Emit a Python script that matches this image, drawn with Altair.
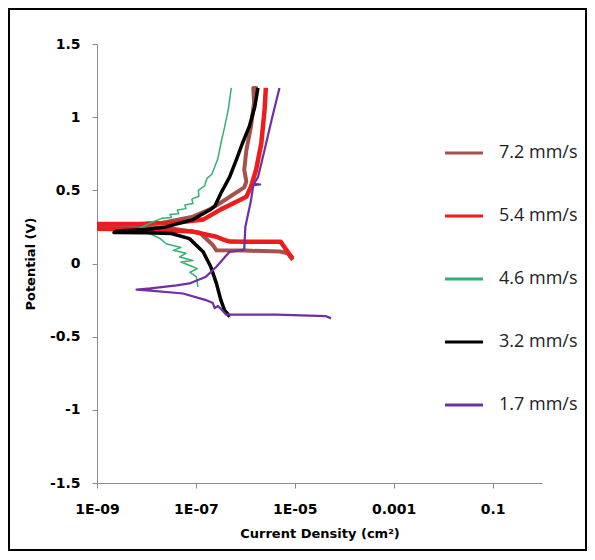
import altair as alt
import pandas as pd

speeds = ["7.2 mm/s", "5.4 mm/s", "4.6 mm/s", "3.2 mm/s", "1.7 mm/s"]
colors = ["#A4524C", "#EE1C1C", "#33B071", "#000000", "#7030A0"]
widths = [4.0, 4.5, 1.5, 3.5, 2.2]

# current density (A/cm2) and potential (V), in scan order
i_72 = [9.1e-6, 7.2e-6, 5.0e-6, 1.0e-6, 2.6e-7, 2.2e-7, 1.2e-7, 3.2e-8, 3.2e-9, 9e-10,
        9e-10, 3.2e-9, 1.9e-8, 8.7e-8, 1.9e-7, 3.0e-7, 5.6e-7, 9.5e-7, 1.05e-6, 9.5e-7,
        1.05e-6, 1.3e-6, 1.5e-6, 1.45e-6, 1.65e-6, 1.6e-6]
v_72 = [0.024, 0.07, 0.082, 0.088, 0.09, 0.126, 0.21, 0.24, 0.25, 0.255,
        0.262, 0.265, 0.276, 0.32, 0.37, 0.41, 0.47, 0.52, 0.56, 0.64,
        0.775, 0.935, 1.1, 1.2, 1.2, 1.12]

i_54 = [9.1e-6, 7.9e-6, 5.2e-6, 1.0e-6, 4.8e-7, 3.5e-7, 2.6e-7, 8.7e-8, 1.0e-8, 9e-10,
        9e-10, 1.0e-8, 4.0e-8, 1.4e-7, 3.2e-7, 5.6e-7, 1.05e-6, 1.3e-6, 1.65e-6, 2.1e-6,
        2.45e-6, 2.6e-6]
v_54 = [0.035, 0.06, 0.148, 0.148, 0.15, 0.165, 0.183, 0.218, 0.232, 0.238,
        0.27, 0.272, 0.278, 0.30, 0.37, 0.41, 0.456, 0.525, 0.64, 0.82,
        1.05, 1.2]

i_46 = [1.1e-7, 1.02e-7, 7.6e-8, 1.07e-7, 7.1e-8, 5.0e-8, 8.7e-8, 4.7e-8, 6.3e-8, 3.5e-8,
        5.0e-8, 2.5e-8, 1.9e-8, 1.26e-8, 7.1e-9, 1.26e-8, 2.1e-8, 3.2e-8, 3.0e-8, 4.5e-8,
        4.2e-8, 6.3e-8, 6.0e-8, 8.7e-8, 8.3e-8, 1.15e-7, 1.12e-7, 1.5e-7, 1.66e-7, 2.1e-7,
        2.4e-7, 2.8e-7, 3.2e-7, 3.8e-7, 4.5e-7, 5.2e-7]
v_46 = [-0.16, -0.09, -0.06, -0.035, -0.01, 0.01, 0.02, 0.045, 0.07, 0.09,
        0.11, 0.135, 0.17, 0.2, 0.24, 0.28, 0.31, 0.315, 0.335, 0.34,
        0.365, 0.375, 0.4, 0.41, 0.44, 0.46, 0.5, 0.53, 0.58, 0.61,
        0.66, 0.72, 0.82, 0.93, 1.05, 1.2]

i_32 = [4.8e-7, 4.4e-7, 3.8e-7, 3.2e-7, 2.6e-7, 2.0e-7, 1.4e-7, 7.4e-8, 3.2e-8, 1.0e-8,
        2.2e-9, 2.5e-9, 1.0e-8, 2.5e-8, 8.7e-8, 1.9e-7, 2.4e-7, 3.2e-7, 4.8e-7, 6.6e-7,
        8.7e-7, 1.2e-6, 1.55e-6, 1.8e-6]
v_32 = [-0.364, -0.345, -0.32, -0.25, -0.136, -0.022, 0.08, 0.17, 0.205, 0.21,
        0.212, 0.222, 0.232, 0.25, 0.30, 0.365, 0.39, 0.48, 0.59, 0.71,
        0.82, 0.935, 1.07, 1.2]

i_17 = [5.4e-5, 4.3e-5, 4.2e-6, 4.1e-7, 3.4e-7, 2.8e-7, 2.4e-7, 2.2e-7, 1.6e-7, 5.5e-8,
        1.2e-8, 6.3e-9, 1.2e-8, 4.1e-8, 7.4e-8, 1.6e-7, 2.6e-7, 4.8e-7, 9.5e-7, 1.0e-6,
        1.3e-6, 1.45e-6, 2.0e-6, 1.5e-6, 1.8e-6, 2.45e-6, 3.5e-6, 4.9e-6]
v_17 = [-0.375, -0.36, -0.35, -0.35, -0.32, -0.29, -0.305, -0.27, -0.25, -0.205,
        -0.185, -0.178, -0.17, -0.15, -0.136, -0.09, -0.022, 0.08, 0.095, 0.25,
        0.43, 0.535, 0.54, 0.545, 0.59, 0.775, 1.0, 1.2]

x_ticks = [1e-9, 1e-7, 1e-5, 1e-3, 0.1]
x_labels = ["1E-09", "1E-07", "1E-05", "0.001", "0.1"]
y_ticks = [-1.5, -1, -0.5, 0, 0.5, 1, 1.5]

series = [(speeds[0], i_72, v_72), (speeds[1], i_54, v_54), (speeds[2], i_46, v_46),
          (speeds[3], i_32, v_32), (speeds[4], i_17, v_17)]
rows = []
for name, ii, vv in series:
    for k, (a, b) in enumerate(zip(ii, vv)):
        rows.append({"speed": name, "i": a, "v": b, "k": k})
df = pd.DataFrame(rows)

label_expr = ""
for val, lab in zip(x_ticks[:-1], x_labels[:-1]):
    label_expr += f"datum.value < {val * 3} ? '{lab}' : "
label_expr += f"'{x_labels[-1]}'"

AXF = "DejaVu Sans"
LEGF = "Open Sans"

x_enc = alt.X("i:Q", scale=alt.Scale(type="log", domain=[1e-9, 1], nice=False),
              axis=alt.Axis(values=x_ticks, labelExpr=label_expr, title="Current Density (cm²)",
                            grid=False, domainColor="#8C8C8C", tickColor="#8C8C8C",
                            tickSize=5, labelPadding=14, labelFont=AXF, labelFontSize=14,
                            labelFontWeight="bold", labelColor="black", titleFont=AXF,
                            titleFontSize=13, titleFontWeight="bold", titleColor="black",
                            titlePadding=11, labelFlush=False))
y_enc = alt.Y("v:Q", scale=alt.Scale(domain=[-1.5, 1.5], nice=False),
              axis=alt.Axis(values=y_ticks, labelExpr="toString(datum.value)", title="Potential (V)",
                            grid=False, domainColor="#8C8C8C", tickColor="#8C8C8C",
                            tickSize=5, labelPadding=12, labelFont=AXF, labelFontSize=14,
                            labelFontWeight="bold", labelColor="black", titleFont=AXF,
                            titleFontSize=13, titleFontWeight="bold", titleColor="black",
                            titlePadding=12, labelFlush=False))
c_enc = alt.Color("speed:N", scale=alt.Scale(domain=speeds, range=colors),
                  legend=alt.Legend(title=None, orient="none", legendX=346, legendY=88,
                                    symbolType="stroke", symbolSize=1444,
                                    labelFont=LEGF, labelFontSize=18, labelColor="#222222",
                                    labelOffset=14, rowPadding=33, symbolStrokeWidth=3.2))

layers = []
for name, w in zip(speeds, widths):
    layers.append(
        alt.Chart(df).transform_filter(alt.datum.speed == name)
        .mark_line(clip=True, strokeJoin="round", strokeWidth=w)
        .encode(x=x_enc, y=y_enc, color=c_enc, order=alt.Order("k:Q"))
    )

frame = alt.Chart(pd.DataFrame({"f": [0]})).mark_rect(
    filled=False, stroke="black", strokeWidth=2
).encode(x=alt.value(-88), x2=alt.value(489), y=alt.value(-35), y2=alt.value(506))

chart = alt.layer(*layers, frame).properties(
    width=445, height=439,
    padding={"left": 89, "top": 36, "right": 45, "bottom": 69},
    autosize=alt.AutoSizeParams(type="none"),
).configure_view(stroke=None)

chart.save("out.html", embed_options={"renderer": "svg", "actions": False})
